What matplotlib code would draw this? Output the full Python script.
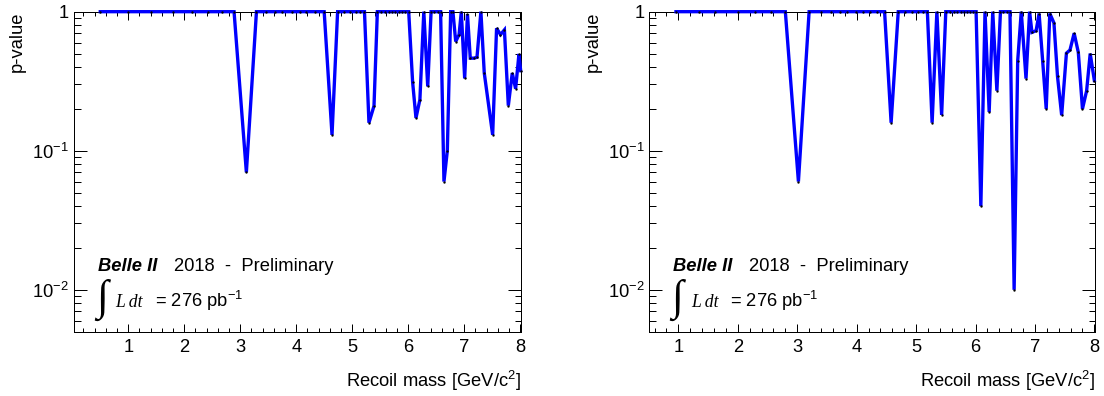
import matplotlib
matplotlib.use("Agg")
import matplotlib.pyplot as plt
from matplotlib.ticker import FixedLocator, FixedFormatter, MultipleLocator, LogLocator, NullFormatter

plt.rcParams['font.family'] = ['Liberation Sans', 'DejaVu Sans']
plt.rcParams['mathtext.fontset'] = 'custom'
plt.rcParams['mathtext.rm'] = 'Liberation Sans'
plt.rcParams['mathtext.it'] = 'Liberation Sans:italic'
plt.rcParams['mathtext.bf'] = 'Liberation Sans:bold'

# ---- scan results: recoil mass [GeV/c^2] and local p-value ----
mass_left = [0.50, 1.00, 1.41, 1.80, 2.13, 2.42, 2.67, 2.89,
             3.11,
             3.29, 3.46, 3.62, 3.74, 3.93, 4.06, 4.18, 4.34, 4.50,
             4.64,
             4.74, 4.86, 4.97, 5.06, 5.14, 5.22,
             5.30, 5.39,
             5.45, 5.52, 5.58, 5.65, 5.71, 5.77, 5.83, 5.89, 5.95, 6.01,
             6.08, 6.14, 6.21, 6.28, 6.35,
             6.41, 6.47, 6.53, 6.58,
             6.64, 6.70, 6.76, 6.80, 6.85, 6.91, 6.95, 7.01, 7.06, 7.11,
             7.17, 7.23, 7.30, 7.36, 7.51, 7.58, 7.65, 7.72, 7.79, 7.86,
             7.92, 7.98, 8.01]
pvalue_left = [1, 1, 1, 1, 1, 1, 1, 1,
               0.070,
               1, 1, 1, 1, 1, 1, 1, 1, 1,
               0.130,
               1, 1, 1, 1, 1, 1,
               0.159, 0.210,
               1, 1, 1, 1, 1, 1, 1, 1, 1, 1,
               0.312, 0.172, 0.233, 1, 0.290,
               1, 1, 1, 1,
               0.060, 0.100, 1, 1, 0.61, 0.684, 1, 0.331, 0.96, 0.463,
               0.463, 0.47, 1, 0.362, 0.130, 0.76, 0.684, 0.74, 0.211, 0.362,
               0.279, 0.497, 0.377]

mass_right = [0.96, 1.34, 1.61, 2.00, 2.29, 2.56, 2.80,
              3.02,
              3.20, 3.40, 3.57, 3.72, 3.84, 3.99, 4.11, 4.23, 4.35, 4.47,
              4.58,
              4.70, 4.82, 4.93, 5.03, 5.11, 5.19,
              5.27, 5.35, 5.43,
              5.50, 5.57, 5.63, 5.69, 5.75, 5.81, 5.86, 5.91, 5.96, 6.01,
              6.09, 6.16, 6.23, 6.29, 6.36,
              6.42, 6.47, 6.53, 6.58,
              6.65, 6.71, 6.77, 6.85, 6.91, 6.95, 7.02, 7.07, 7.13, 7.19,
              7.25, 7.32, 7.38, 7.45, 7.53, 7.59, 7.66, 7.73, 7.80, 7.87,
              7.93, 8.00]
pvalue_right = [1, 1, 1, 1, 1, 1, 1,
                0.060,
                1, 1, 1, 1, 1, 1, 1, 1, 1, 1,
                0.159,
                1, 1, 1, 1, 1, 1,
                0.159, 1, 0.181,
                1, 1, 1, 1, 1, 1, 1, 1, 1, 1,
                0.040, 1, 0.190, 1, 0.270,
                1, 1, 1, 1,
                0.010, 0.443, 1, 0.330, 1, 0.71, 0.73, 0.97, 0.443, 0.200,
                0.97, 0.83, 0.342, 0.180, 0.503, 0.53, 0.70, 0.51, 0.200, 0.270,
                0.500, 0.320]

x_major = [1, 2, 3, 4, 5, 6, 7, 8]
x_labels = ["1", "2", "3", "4", "5", "6", "7", "8"]
y_major = [0.01, 0.1, 1]
y_labels = [r"$\mathregular{10^{-2}}$", r"$\mathregular{10^{-1}}$", "1"]
x_title = r"Recoil mass [GeV/c$^{\mathregular{2}}$]"
y_title = "p-value"
experiment = "Belle II"
status = "2018  -  Preliminary"
lumi_symbol = "\u222b"
lumi_var = "L dt"
lumi_value = r"= 276 pb$^{\mathregular{-1}}$"

FS = 13.2
px = 72.0 / 100.0

fig = plt.figure(figsize=(11.04, 3.96), dpi=100)
ax_left = fig.add_axes([0.0670, 0.1624, 0.4046, 0.8081])
ax_right = fig.add_axes([0.5881, 0.1624, 0.4037, 0.8081])

panels = [
    (ax_left, mass_left, pvalue_left, (0.03, 8.01)),
    (ax_right, mass_right, pvalue_right, (0.51, 8.01)),
]

for ax, mass, pval, xlim in panels:
    ax.plot(mass, pval, color='#0000ff', lw=2.4, solid_joinstyle='miter',
            clip_on=False, zorder=3)
    ax.plot(mass, pval, ls='none', marker='o', ms=1.7, mfc='black',
            mec='none', clip_on=False, zorder=4)

    ax.set_yscale('log')
    ax.set_xlim(*xlim)
    ax.set_ylim(0.005, 1.0)

    ax.xaxis.set_major_locator(FixedLocator(x_major))
    ax.xaxis.set_major_formatter(FixedFormatter(x_labels))
    ax.xaxis.set_minor_locator(MultipleLocator(0.2))
    ax.yaxis.set_major_locator(FixedLocator(y_major))
    ax.yaxis.set_major_formatter(FixedFormatter(y_labels))
    ax.yaxis.set_minor_locator(LogLocator(base=10, subs=range(2, 10)))
    ax.yaxis.set_minor_formatter(NullFormatter())

    ax.tick_params(which='both', direction='in', top=True, right=True,
                   width=1.0 * px, labelsize=FS, colors='black')
    ax.tick_params(axis='x', which='major', length=8 * px, pad=5)
    ax.tick_params(axis='x', which='minor', length=4 * px)
    ax.tick_params(axis='y', which='major', length=13 * px, pad=3.5)
    ax.tick_params(axis='y', which='minor', length=6.5 * px)
    for sp in ax.spines.values():
        sp.set_linewidth(1.0 * px)
        sp.set_color('black')

    ax.set_xlabel(x_title, fontsize=FS, loc='right')
    ax.xaxis.set_label_coords(1.0, -0.115)
    ax.set_ylabel(y_title, fontsize=FS, loc='top')
    ax.yaxis.set_label_coords(-0.107, 1.0)

    ax.text(0.054, 0.19, experiment, transform=ax.transAxes, fontsize=FS,
            fontweight='bold', fontstyle='italic', va='baseline', ha='left')
    ax.text(0.224, 0.19, status, transform=ax.transAxes, fontsize=FS,
            va='baseline', ha='left')
    ax.text(0.063, 0.098, lumi_symbol, transform=ax.transAxes, fontsize=31,
            family='Liberation Serif', va='center', ha='center')
    ax.text(0.093, 0.076, lumi_var, transform=ax.transAxes, fontsize=12.7,
            family='Liberation Serif', fontstyle='italic', va='baseline',
            ha='left')
    ax.text(0.181, 0.076, lumi_value, transform=ax.transAxes, fontsize=FS,
            va='baseline', ha='left')

fig.savefig("out.png", dpi=100)
